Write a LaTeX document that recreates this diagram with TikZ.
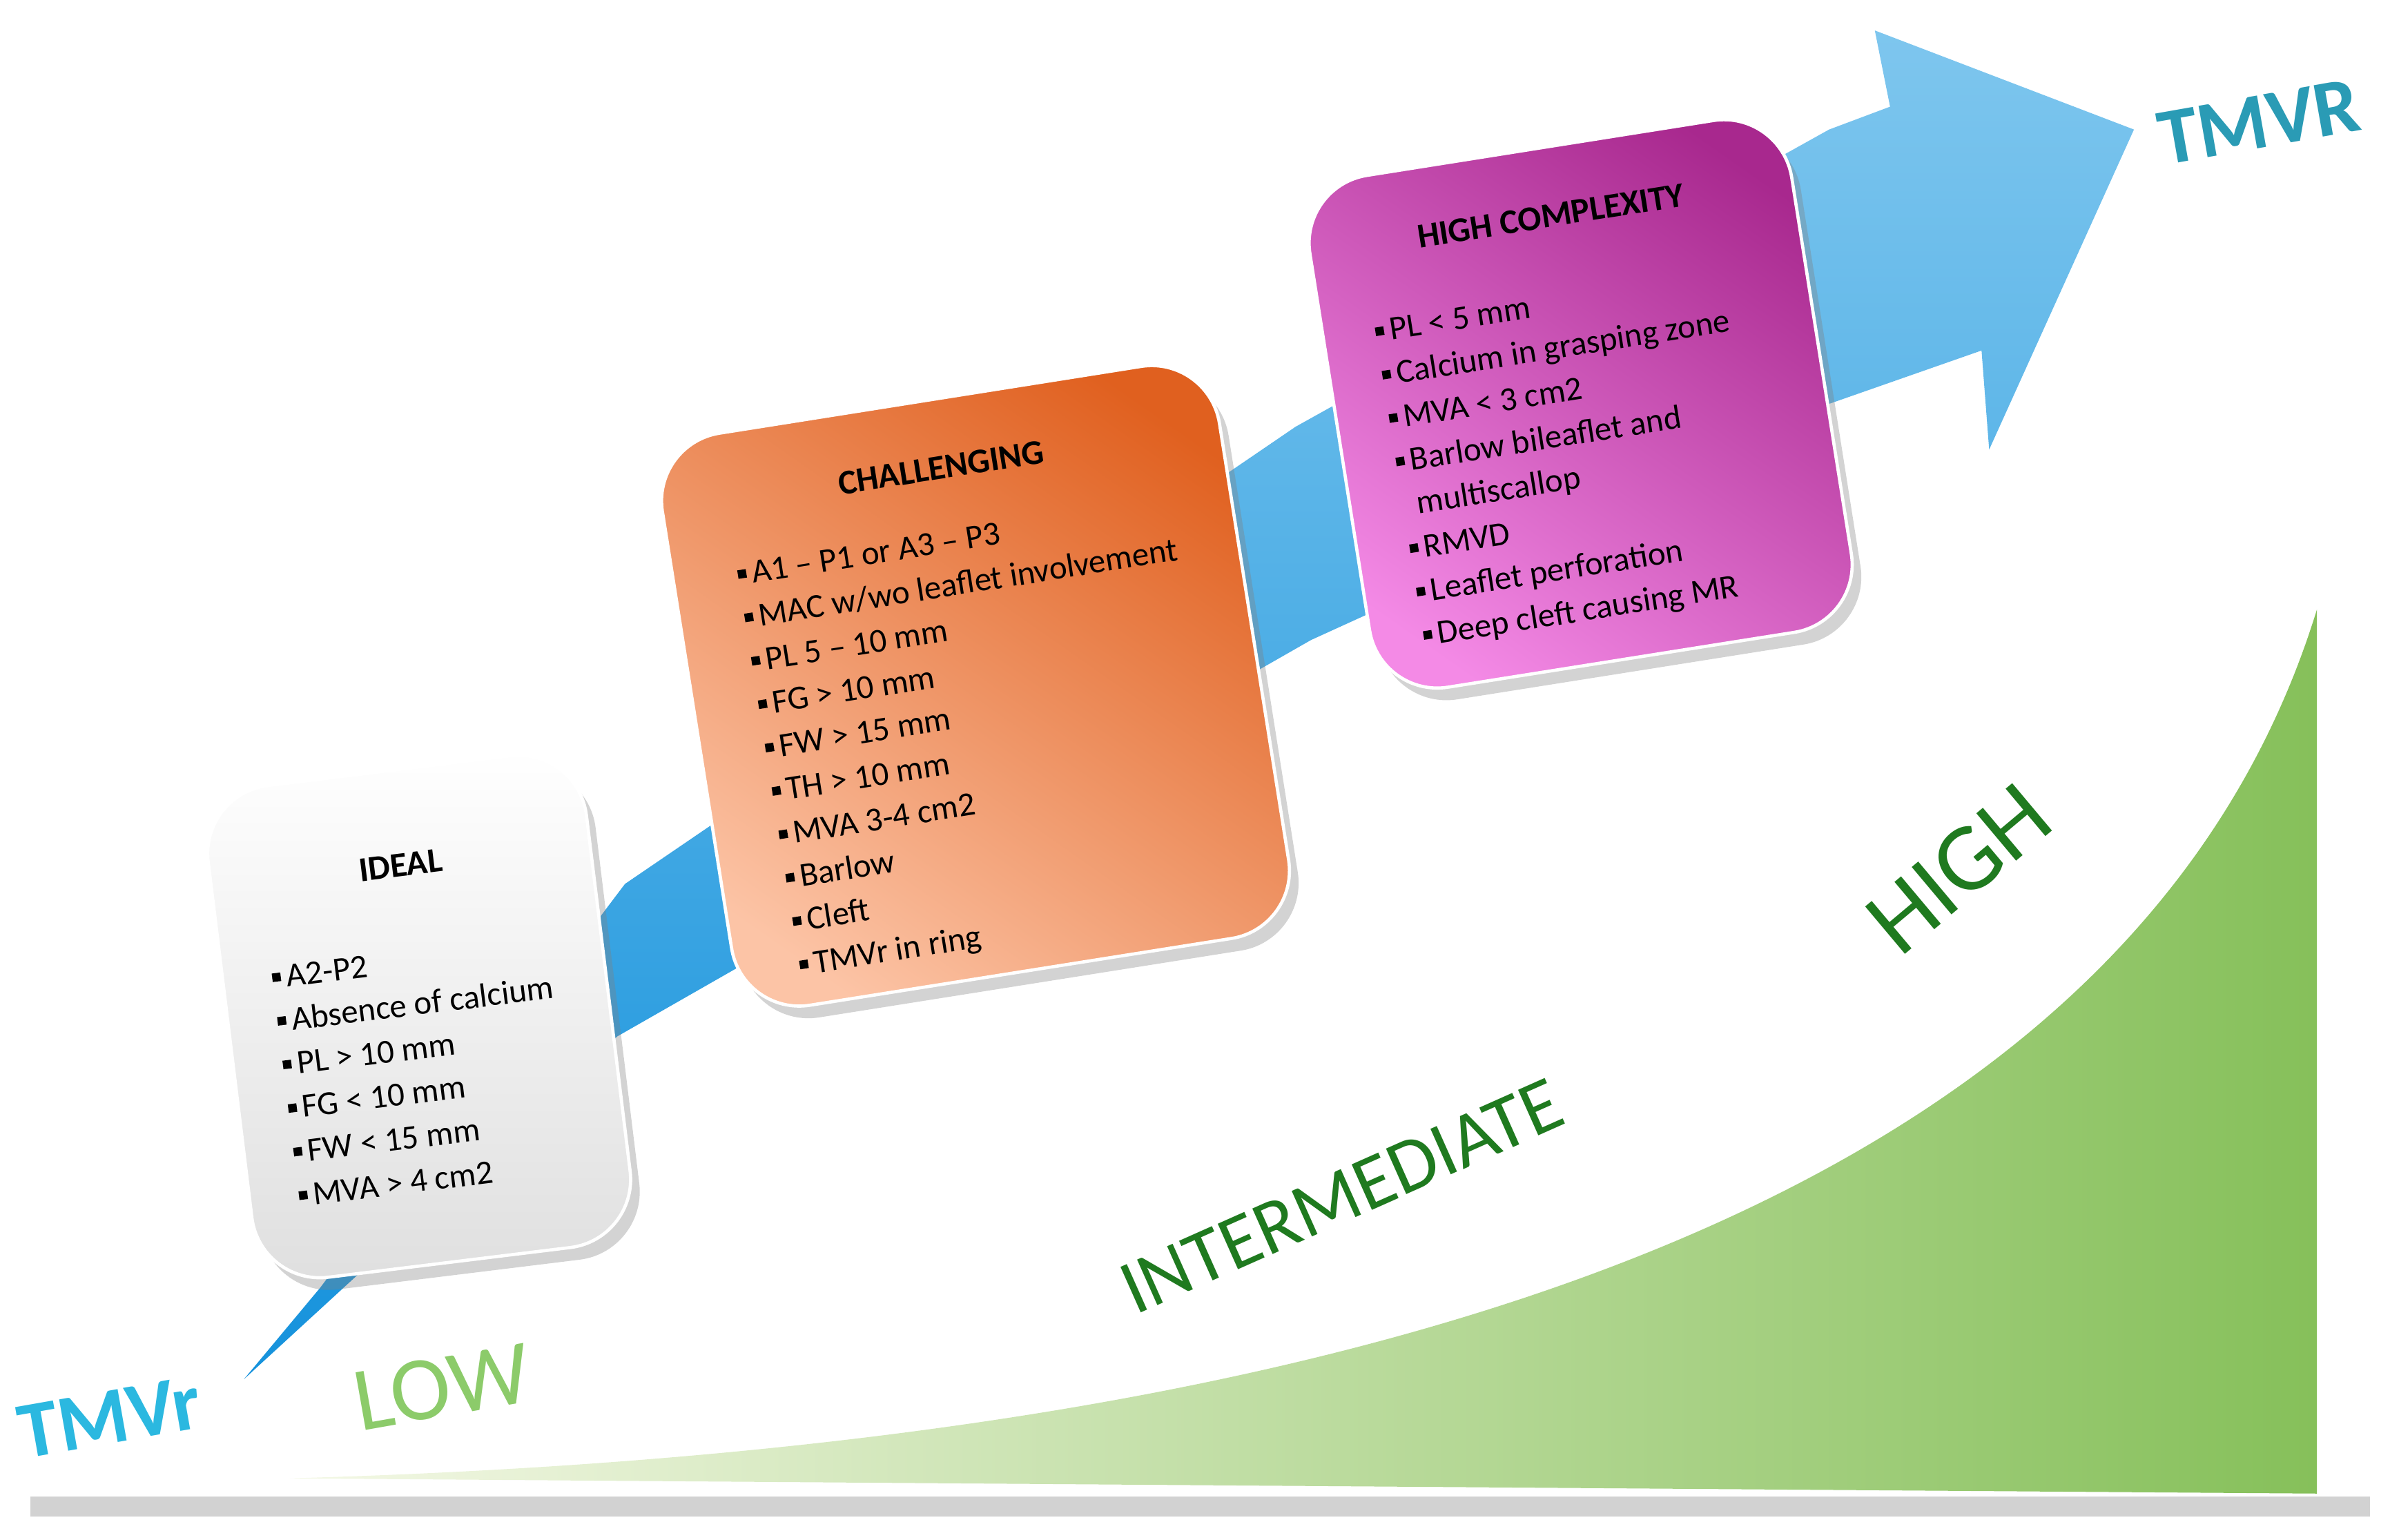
\documentclass[tikz,border=0pt]{standalone}
\usepackage{fontspec}
\setmainfont{Carlito}
\usetikzlibrary{shadows}
\definecolor{arrA}{HTML}{7EC6EE}
\definecolor{arrB}{HTML}{1592DC}
\definecolor{grnL}{HTML}{F4F8E6}
\definecolor{grnD}{HTML}{86C05A}
\definecolor{dgreen}{HTML}{1F7A1F}
\definecolor{lgreen}{HTML}{8CCB6A}
\definecolor{tmv}{HTML}{2BB8E0}
\definecolor{tmvR}{HTML}{2A9BB5}
\definecolor{orD}{HTML}{E0601F}
\definecolor{orL}{HTML}{FCC4A6}
\definecolor{mgD}{HTML}{A8288E}
\definecolor{mgL}{HTML}{F48AE6}
\tikzset{
 box/.style={rounded corners=0.45cm,draw=white,line width=0.6pt,drop shadow={opacity=0.35,shadow xshift=0.06,shadow yshift=-0.08}},
 ttl/.style={font=\bfseries\fontsize{6.5}{8}\selectfont},
 lst/.style={align=left,anchor=west,font=\fontsize{6.3}{8.2}\selectfont},
 big/.style={font=\bfseries\fontsize{15}{17}\selectfont}
}
\newcommand{\bl}{\raisebox{0.4ex}{\rule{1.6pt}{1.6pt}}\,}
\begin{document}
\begin{tikzpicture}[x=1cm,y=1cm]
\useasboundingbox (0,0) rectangle (15.68,10.10);
% frame shadow
\fill[gray!35] (0.2,0.15) rectangle (15.55,0.28);
% green wedge
\shade[left color=grnL,right color=grnD] (1.9,0.4) .. controls (9,0.6) and (14,2.2) .. (15.2,6.1) -- (15.2,0.3) -- cycle;
% arrow
\shade[left color=arrA,right color=arrB,shading angle=0]
 (1.6,1.05) -- (2.1,1.65) -- (4.1,4.3) -- (8.5,7.3) -- (12.0,9.25) -- (12.4,9.4) -- (12.3,9.9) -- (14.0,9.25)
 -- (13.05,7.15) -- (13.0,7.8) -- (12.0,7.45) -- (8.6,5.9) -- (4.05,3.3) -- (1.6,1.05) -- cycle;
% IDEAL
\begin{scope}[shift={(2.75,3.43)},rotate=7,transform shape]
 \node[box,minimum width=2.5cm,minimum height=3.25cm,left color=white,right color=gray!25,shading angle=0] (ideal) {};
 \node[ttl] (idealt) at (0,1.0) {IDEAL};
 \node[lst] (ideall) at (-1.05,-0.35) {\bl A2-P2\\ \bl Absence of calcium\\ \bl PL > 10 mm\\ \bl FG < 10 mm\\ \bl FW < 15 mm\\ \bl MVA > 4 cm2};
\end{scope}
% CHALLENGING
\begin{scope}[shift={(6.4,5.6)},rotate=9,transform shape]
 \node[box,minimum width=3.7cm,minimum height=3.8cm,shading=axis,top color=orD,bottom color=orL,shading angle=-35] (chal) {};
 \node[ttl] (chalt) at (0,1.45) {CHALLENGING};
 \node[lst] (chall) at (-1.55,-0.35) {\bl A1 -- P1 or A3 -- P3\\ \bl MAC w/wo leaflet involvement\\ \bl PL 5 -- 10 mm\\ \bl FG > 10 mm\\ \bl FW > 15 mm\\ \bl TH > 10 mm\\ \bl MVA 3-4 cm2\\ \bl Barlow\\ \bl Cleft\\ \bl TMVr in ring};
\end{scope}
% HIGH COMPLEXITY
\begin{scope}[shift={(10.37,7.45)},rotate=9,transform shape]
 \node[box,minimum width=3.2cm,minimum height=3.4cm,shading=axis,top color=mgD,bottom color=mgL,shading angle=-35] (high) {};
 \node[ttl] (hight) at (0,1.25) {HIGH COMPLEXITY};
 \node[lst] (highl) at (-1.38,-0.35) {\bl PL < 5 mm\\ \bl Calcium in grasping zone\\ \bl MVA < 3 cm2\\ \bl Barlow bileaflet and\\ \phantom{\bl}multiscallop\\ \bl RMVD\\ \bl Leaflet perforation\\ \bl Deep cleft causing MR};
\end{scope}
% labels
\node[big,tmv,rotate=10] (tmvr) at (0.72,0.8) {TMVr};
\node[big,tmvR,rotate=10] (tmvR) at (14.82,9.3) {TMVR};
\node[lgreen,rotate=10,font=\fontsize{17}{19}\selectfont] (low) at (2.9,1.0) {LOW};
\node[dgreen,rotate=24,font=\fontsize{14.5}{16}\selectfont] (inter) at (8.8,2.25) {INTERMEDIATE};
\node[dgreen,rotate=40,font=\fontsize{18}{20}\selectfont] (hi) at (12.85,4.4) {HIGH};
\end{tikzpicture}
\end{document}
